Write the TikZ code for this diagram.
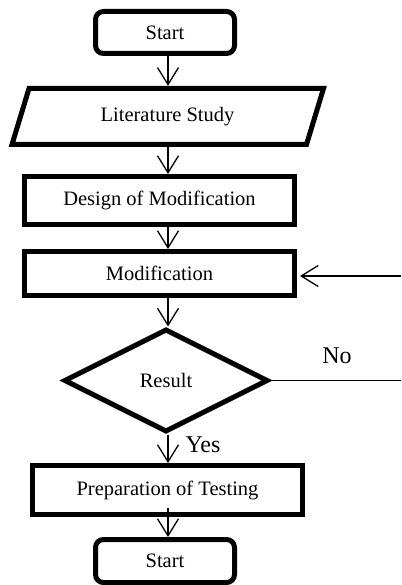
\documentclass[tikz,border=0pt]{standalone}
\usepackage{fontspec}
\setmainfont{Liberation Serif}
\usetikzlibrary{arrows.meta,shapes.geometric}
\begin{document}
\begin{tikzpicture}[x=1pt,y=-1pt,
  boxtext/.style={font=\fontsize{20.5}{24}\selectfont},
  thickbox/.style={draw,line width=5pt,rectangle,inner sep=0pt,boxtext},
  roundbox/.style={thickbox,rounded corners=8pt},
  flow/.style={line width=1.3pt,-{Straight Barb[length=17pt,width=21pt,line width=1.3pt]}},
  plain/.style={line width=1.3pt},
  biglabel/.style={font=\fontsize{24}{28}\selectfont,inner sep=0pt}]
\useasboundingbox (0,0) rectangle (401,585);
\coordinate (ax) at (168,0);
% nodes
\node[roundbox,minimum width=139pt,minimum height=42pt] (start) at (165,32.5) {Start};
\draw[line width=5pt,line join=miter] (29,88.5) -- (323.5,88.5) -- (306.5,144.5) -- (12,144.5) -- cycle;
\node[boxtext,inner sep=0pt,minimum width=290pt,minimum height=61pt] (lit) at (167.5,116.5) {Literature Study};
\node[thickbox,minimum width=270pt,minimum height=48pt] (design) at (159.5,200.5) {Design of Modification};
\node[thickbox,minimum width=270pt,minimum height=44pt] (mod) at (159.5,273.5) {Modification};
\node[diamond,draw,line width=5pt,inner sep=0pt,minimum width=204pt,minimum height=103pt,boxtext] (res) at (166,380.5) {Result};
\node[thickbox,minimum width=270pt,minimum height=49pt] (prep) at (167.5,490) {Preparation of Testing};
\node[roundbox,minimum width=139pt,minimum height=43pt] (end) at (165,561) {Start};
\coordinate (noend) at (401,380.5);
\coordinate (back) at (401,276);
\node[biglabel] (no) at (337,356) {No};
\node[biglabel] (yes) at (203,445) {Yes};
% connectors
\draw[flow] (start.south -| ax) -- (lit.north -| ax);
\draw[flow] (lit.south -| ax) -- (design.north -| ax);
\draw[flow] (design.south -| ax) -- (mod.north -| ax);
\draw[flow] (mod.south -| ax) -- (res.north -| ax);
\draw[flow] (res.south -| ax) -- (prep.north -| ax);
\draw[flow,shorten <=-9pt] (prep.south -| ax) -- (end.north -| ax);
\draw[plain] (res.east) -- (noend);
\draw[flow,shorten >=3pt] (back) -- (mod.east |- back);
\end{tikzpicture}
\end{document}
